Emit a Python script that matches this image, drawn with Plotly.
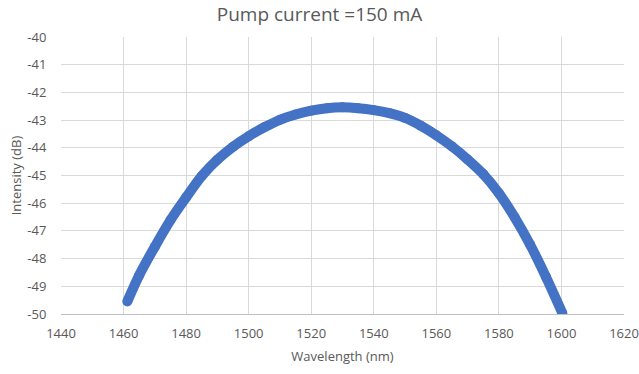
import plotly.graph_objects as go

wavelength = [1461.2, 1465, 1470, 1475, 1480, 1485, 1490, 1495, 1500, 1505, 1510,
              1515, 1520, 1525, 1530, 1535, 1540, 1545, 1550, 1555, 1560, 1565,
              1570, 1575, 1580, 1585, 1590, 1595, 1600.3]
intensity = [-49.55, -48.6, -47.57, -46.61, -45.79, -45.02, -44.43, -43.96, -43.58,
             -43.26, -42.99, -42.80, -42.66, -42.57, -42.54, -42.57, -42.64, -42.75,
             -42.92, -43.2, -43.55, -43.95, -44.42, -44.95, -45.64, -46.5, -47.5,
             -48.65, -49.97]

x_ticks = [1440, 1460, 1480, 1500, 1520, 1540, 1560, 1580, 1600, 1620]
y_ticks = [-50, -49, -48, -47, -46, -45, -44, -43, -42, -41, -40]
y_tick_text = [str(v) for v in y_ticks]

grey = "#595959"
font_family = "Open Sans, Liberation Sans, sans-serif"

fig = go.Figure()
fig.add_trace(go.Scatter(
    x=wavelength, y=intensity, mode="lines+markers",
    line=dict(color="#4472C4", width=10, shape="spline", smoothing=0.8),
    marker=dict(color="#4472C4", size=10),
    showlegend=False, hoverinfo="skip",
))

fig.update_layout(
    width=639, height=374,
    margin=dict(l=61, r=15, t=37, b=60),
    paper_bgcolor="white", plot_bgcolor="white",
    font=dict(family=font_family, color=grey, size=12),
    title=dict(text="Pump current =150 mA", x=0.5, xanchor="center",
               y=1 - 14 / 374, yanchor="middle",
               font=dict(size=19, color=grey, family=font_family)),
)
fig.update_xaxes(
    range=[1440, 1620], tickvals=x_ticks, showgrid=True, gridcolor="#d9d9d9",
    gridwidth=1, zeroline=False, showline=True, linecolor="#bfbfbf",
    ticks="outside", ticklen=7, tickcolor="rgba(0,0,0,0)",
    tickfont=dict(size=13, color=grey), automargin=False,
    title=dict(text="Wavelength (nm)", font=dict(size=13, color=grey), standoff=11),
)
fig.update_yaxes(
    range=[-50, -40], tickvals=y_ticks, ticktext=y_tick_text, showgrid=True,
    gridcolor="#d9d9d9", gridwidth=1, zeroline=False, showline=False,
    ticks="outside", ticklen=11, tickcolor="rgba(0,0,0,0)",
    tickfont=dict(size=13, color=grey), automargin=False,
    title=dict(text="Intensity (dB)", font=dict(size=13, color=grey), standoff=2),
)

fig.write_html("out.html", config={"displayModeBar": False},
               post_script="document.body.style.margin='0';")
